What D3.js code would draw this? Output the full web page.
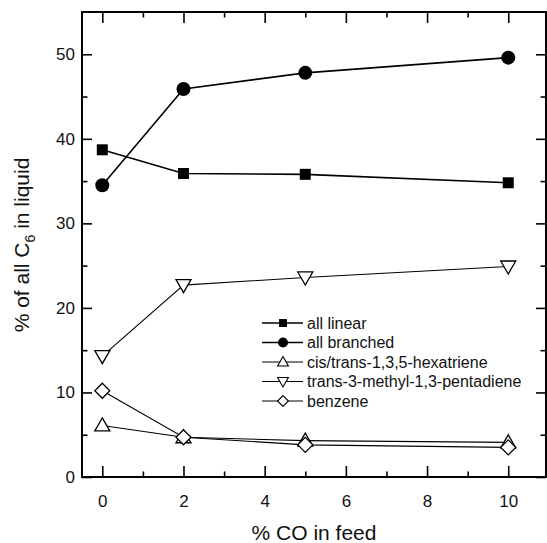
<!DOCTYPE html>
<html>
<head>
<meta charset="utf-8">
<script src="https://cdn.jsdelivr.net/npm/d3@7"></script>
<style>
  body { margin: 0; background: #fff; }
  svg { display: block; font-family: Arial, "Liberation Sans", sans-serif; }
</style>
</head>
<body>
<svg id="chart"></svg>
<script>
// data
const coFeed = [0, 2, 5, 10];
const allLinear = [38.7, 35.9, 35.8, 34.8];
const allBranched = [34.5, 45.9, 47.8, 49.6];
const hexatriene = [6.1, 4.7, 4.3, 4.1];
const pentadiene = [14.3, 22.7, 23.6, 24.9];
const benzene = [10.2, 4.7, 3.8, 3.5];

const seriesNames = ['all linear', 'all branched', 'cis/trans-1,3,5-hexatriene',
                     'trans-3-methyl-1,3-pentadiene', 'benzene'];
const seriesValues = [allLinear, allBranched, hexatriene, pentadiene, benzene];
const seriesMarkers = ['square', 'circle', 'triangleUp', 'triangleDown', 'diamond'];

const xMajor = [0, 2, 4, 6, 8, 10];
const xMinor = [1, 3, 5, 7, 9];
const yMajor = [0, 10, 20, 30, 40, 50];
const yMinor = [5, 15, 25, 35, 45];

var width = 547,
    height = 543,
    plotLeft = 82, plotRight = 546, plotTop = 12, plotBottom = 477;

var svg = d3.select('#chart')
            .attr('width', width)
            .attr('height', height);

const x = d3.scaleLinear().domain([-0.5, 10.93]).range([plotLeft, plotRight]);
const y = d3.scaleLinear().domain([0, 55]).range([plotBottom, plotTop]);

// marker shapes, s = scale
const markerPath = function (type, s) {
    var p = d3.path();
    if (type === 'square') {
        p.rect(-5.5 * s, -5.5 * s, 11 * s, 11 * s);
    } else if (type === 'circle') {
        p.arc(0, 0, 7 * s, 0, 2 * Math.PI);
    } else if (type === 'triangleUp') {
        p.moveTo(0, -7.5 * s); p.lineTo(7.5 * s, 5.5 * s); p.lineTo(-7.5 * s, 5.5 * s); p.closePath();
    } else if (type === 'triangleDown') {
        p.moveTo(-7.5 * s, -5.5 * s); p.lineTo(7.5 * s, -5.5 * s); p.lineTo(0, 7.5 * s); p.closePath();
    } else {
        p.moveTo(0, -7.5 * s); p.lineTo(7.5 * s, 0); p.lineTo(0, 7.5 * s); p.lineTo(-7.5 * s, 0); p.closePath();
    }
    return p.toString();
};
const isFilled = t => t === 'square' || t === 'circle';

// axes
const addAxis = function (axisFn, scale, ticks, size, translate, labels) {
    var g = svg.append('g')
        .attr('transform', translate)
        .call(axisFn(scale).tickValues(ticks).tickSize(-size).tickPadding(labels ? labels : 0)
              .tickFormat(labels ? d3.format('d') : ''));
    g.select('.domain').remove();
    g.selectAll('.tick line').attr('stroke', '#000').attr('stroke-width', 1.6);
    g.selectAll('.tick text').attr('font-size', 17).attr('fill', '#111')
        .attr('font-family', 'Arial, "Liberation Sans", sans-serif');
    return g;
};

addAxis(d3.axisBottom, x, xMajor, 11, 'translate(0,' + plotBottom + ')', 18);
addAxis(d3.axisBottom, x, xMinor, 5.5, 'translate(0,' + plotBottom + ')', 0);
addAxis(d3.axisTop, x, xMajor, 11, 'translate(0,' + plotTop + ')', 0);
addAxis(d3.axisTop, x, xMinor, 5.5, 'translate(0,' + plotTop + ')', 0);
addAxis(d3.axisLeft, y, yMajor, 10, 'translate(' + plotLeft + ',0)', 7);
addAxis(d3.axisLeft, y, yMinor, 5.5, 'translate(' + plotLeft + ',0)', 0);
addAxis(d3.axisRight, y, yMajor, 10, 'translate(' + plotRight + ',0)', 0);
addAxis(d3.axisRight, y, yMinor, 5.5, 'translate(' + plotRight + ',0)', 0);

// frame
svg.append('rect')
    .attr('x', plotLeft).attr('y', plotTop)
    .attr('width', plotRight - plotLeft).attr('height', plotBottom - plotTop)
    .attr('fill', 'none').attr('stroke', '#000').attr('stroke-width', 2);

// series lines
const line = d3.line().x((d, i) => x(coFeed[i])).y(d => y(d));

seriesValues.forEach(function (vals, k) {
    svg.append('path')
        .attr('d', line(vals))
        .attr('fill', 'none')
        .attr('stroke', '#000')
        .attr('stroke-width', k < 2 ? 1.6 : 1.1);
});

// markers
seriesValues.forEach(function (vals, k) {
    var type = seriesMarkers[k];
    svg.selectAll(null)
        .data(vals)
        .enter().append('path')
        .attr('transform', (d, i) => 'translate(' + x(coFeed[i]) + ',' + y(d) + ')')
        .attr('d', markerPath(type, 1))
        .attr('fill', isFilled(type) ? '#000' : '#fff')
        .attr('stroke', '#000')
        .attr('stroke-width', isFilled(type) ? 0 : 1.3);
});

// legend
var legend = svg.append('g').attr('transform', 'translate(262,323)');
seriesNames.forEach(function (name, k) {
    var type = seriesMarkers[k],
        row = legend.append('g').attr('transform', 'translate(0,' + (k * 19.5) + ')');
    row.append('line')
        .attr('x1', 0).attr('x2', 41)
        .attr('stroke', '#000')
        .attr('stroke-width', k < 2 ? 1.6 : 1.1);
    row.append('path')
        .attr('transform', 'translate(21,0)')
        .attr('d', markerPath(type, 0.72))
        .attr('fill', isFilled(type) ? '#000' : '#fff')
        .attr('stroke', '#000')
        .attr('stroke-width', isFilled(type) ? 0 : 1.1);
    row.append('text')
        .attr('x', 45)
        .attr('dy', '0.35em')
        .attr('font-size', 16)
        .attr('fill', '#111')
        .text(name);
});

// axis titles
svg.append('text')
    .attr('x', (plotLeft + plotRight) / 2)
    .attr('y', 540)
    .attr('text-anchor', 'middle')
    .attr('font-size', 21)
    .attr('fill', '#111')
    .text('% CO in feed');

var yTitle = svg.append('text')
    .attr('transform', 'translate(29,' + 245 + ') rotate(-90)')
    .attr('text-anchor', 'middle')
    .attr('font-size', 21)
    .attr('fill', '#111');
yTitle.append('tspan').text('% of all C');
yTitle.append('tspan').attr('font-size', 14).attr('dy', 6).text('6');
yTitle.append('tspan').attr('dy', -6).text(' in liquid');
</script>
</body>
</html>
